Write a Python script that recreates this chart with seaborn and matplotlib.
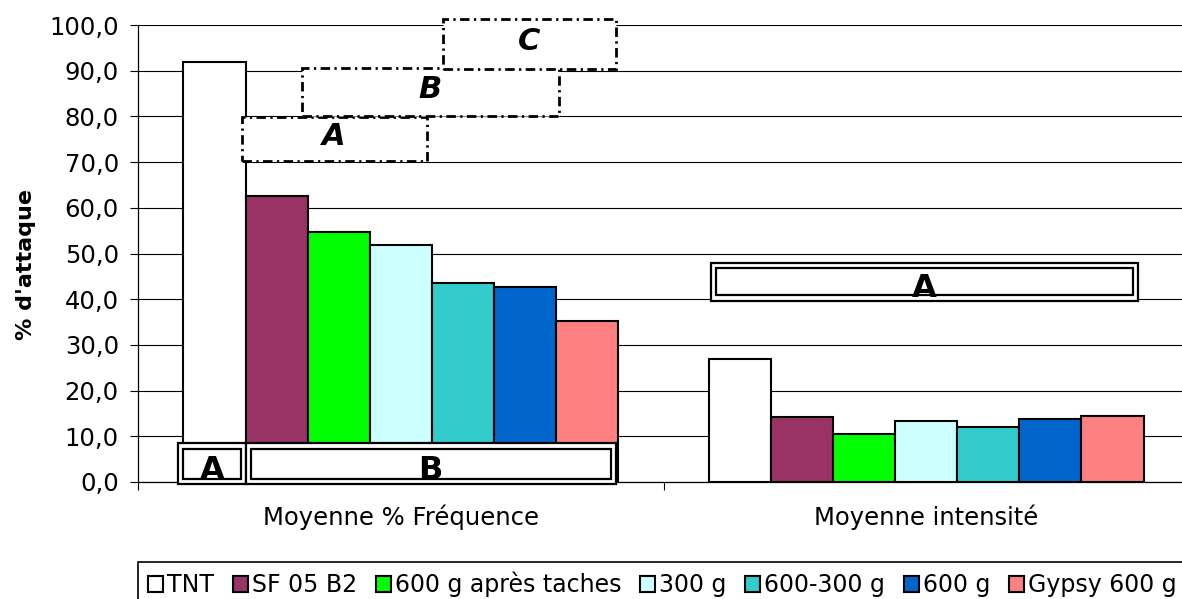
import matplotlib
matplotlib.use("Agg")
import matplotlib.pyplot as plt
import pandas as pd
import seaborn as sns
from matplotlib.patches import Rectangle

# ## Données

mesures = ["Moyenne % Fréquence", "Moyenne intensité"]
traitements = [
    "TNT",
    "SF 05 B2",
    "600 g après taches",
    "300 g",
    "600-300 g",
    "600 g",
    "Gypsy 600 g",
]
frequence = [92.0, 62.6, 54.6, 51.9, 43.5, 42.7, 35.3]
intensite = [26.9, 14.3, 10.5, 13.3, 12.1, 13.7, 14.4]
couleurs = ["#FFFFFF", "#993366", "#00FF00", "#CCFFFF", "#33CCCC", "#0066CC", "#FF8080"]
graduations = [0, 10, 20, 30, 40, 50, 60, 70, 80, 90, 100]

# lettres des groupes statistiques
lettres_frequence_bas = ["A", "B"]
lettres_frequence_haut = ["A", "B", "C"]
lettres_intensite = ["A"]

df = pd.DataFrame(
    {
        "mesure": [mesures[0]] * len(frequence) + [mesures[1]] * len(intensite),
        "traitement": traitements * 2,
        "valeur": frequence + intensite,
    }
)

plt.rcParams["font.family"] = ["DejaVu Sans"]

fig = plt.figure(figsize=(11.82, 5.99), dpi=100)
ax = fig.add_axes([138 / 1182, 117 / 599, 1051 / 1182, 457 / 599])

W = 0.827
sns.barplot(
    data=df,
    x="mesure",
    y="valeur",
    hue="traitement",
    order=mesures,
    hue_order=traitements,
    palette=couleurs,
    saturation=1,
    width=W,
    edgecolor="black",
    linewidth=1.5,
    ax=ax,
)

ax.set_xlim(-0.5, 1.5)
ax.set_ylim(0, 100)
ax.set_yticks(graduations)
ax.set_yticklabels([f"{v:.1f}".replace(".", ",") for v in graduations], fontsize=17.5)
ax.set_xticks([0, 1])
ax.set_xticklabels(mesures, fontsize=17.5)
ax.set_xticks([-0.5, 0.5, 1.5], minor=True)
ax.tick_params(axis="x", which="major", length=0, pad=16)
ax.tick_params(axis="x", which="minor", length=5.8, width=0.8, direction="out")
ax.tick_params(axis="y", length=5.8, width=0.8, pad=8, direction="out")
ax.set_xlabel("")
ax.set_ylabel("% d'attaque", fontsize=16, fontweight="bold")
ax.yaxis.set_label_coords(-0.097, 0.475)

ax.grid(axis="y", color="black", linewidth=0.8)
ax.set_axisbelow(True)
for s in ["top", "right"]:
    ax.spines[s].set_visible(False)
for s in ["left", "bottom"]:
    ax.spines[s].set_linewidth(0.9)

# ## Lettres de significativité

bw = W / len(traitements)


def bord(cat, i):
    return cat - W / 2 + i * bw


def boite_double(x0, x1, y0, y1, lettre, ty):
    dx, dy = 5 / 525, 5.5 / 4.57
    ax.add_patch(
        Rectangle((x0, y0), x1 - x0, y1 - y0, fc="white", ec="black",
                  lw=1.6, clip_on=False, zorder=4)
    )
    ax.add_patch(
        Rectangle((x0 + dx, y0 + dy), x1 - x0 - 2 * dx, y1 - y0 - 2 * dy,
                  fill=False, ec="black", lw=1.6, clip_on=False, zorder=4)
    )
    ax.text((x0 + x1) / 2, ty, lettre, ha="center", va="baseline",
            fontsize=23, fontweight="bold", zorder=5)


def boite_tirets(x0, x1, y0, y1, lettre):
    ax.add_patch(
        Rectangle((x0, y0), x1 - x0, y1 - y0, fc="white", ec="black", lw=2,
                  linestyle=(0, (3.4, 1.6, 0.8, 1.6)), clip_on=False, zorder=4)
    )
    ax.text((x0 + x1) / 2, (y0 + y1) / 2 + 0.6, lettre, ha="center",
            va="center", fontsize=22, fontweight="bold", fontstyle="italic",
            zorder=5)


# fréquence, en bas des barres
boite_double(bord(0, 0) - 0.0095, bord(0, 1), -0.44, 8.47,
             lettres_frequence_bas[0], 0.7)
boite_double(bord(0, 1), bord(0, 7) - 0.004, -0.44, 8.47,
             lettres_frequence_bas[1], 0.7)

# fréquence, au-dessus
positions_haut = [
    (-0.303, 0.0495, 70.2, 79.9),
    (-0.1886, 0.301, 80.0, 90.6),
    (0.080, 0.4095, 90.4, 101.3),
]
for (x0, x1, y0, y1), lettre in zip(positions_haut, lettres_frequence_haut):
    boite_tirets(x0, x1, y0, y1, lettre)

# intensité
boite_double(bord(1, 0) + 0.004, bord(1, 7) - 0.011, 39.7, 48.0,
             lettres_intensite[0], 40.5)

# ## Légende

handles, labels = ax.get_legend_handles_labels()
ax.get_legend().remove()
leg = fig.legend(
    handles,
    labels,
    loc="upper left",
    bbox_to_anchor=(138 / 1182, 1 - 562 / 599),
    ncol=7,
    frameon=True,
    fancybox=False,
    edgecolor="black",
    framealpha=1,
    fontsize=17,
    handlelength=0.64,
    handleheight=0.64,
    handletextpad=0.17,
    columnspacing=0.79,
    borderaxespad=0,
    borderpad=0.42,
)
leg.get_frame().set_linewidth(1.2)

fig.savefig("out.png", dpi=100)
